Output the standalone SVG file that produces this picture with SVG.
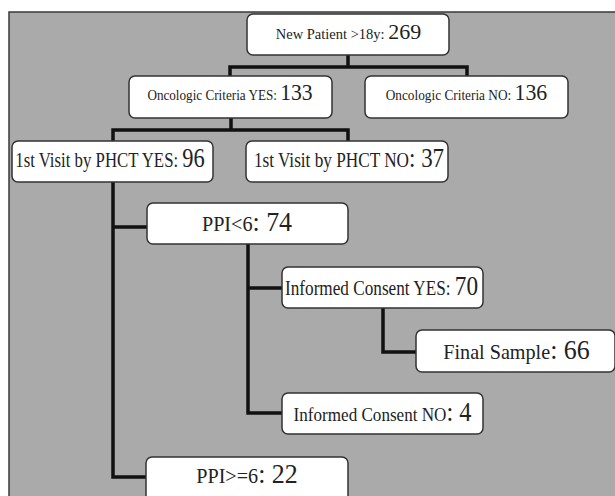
<svg xmlns="http://www.w3.org/2000/svg" width="615" height="496" viewBox="0 0 615 496">
<style>
.bg{fill:#aaaaaa;stroke:#3a3a3a;stroke-width:1.5}
.box{fill:#ffffff;stroke:#333333;stroke-width:1.5}
.con{fill:none;stroke:#111111;stroke-width:3.5;stroke-linejoin:miter;stroke-linecap:square}
text{font-family:"Liberation Serif","Times New Roman",serif;fill:#222222;text-anchor:middle}
</style>
<rect x="0" y="0" width="615" height="496" fill="#ffffff"/>
<rect class="bg" x="9" y="12" width="612" height="490"/>
<g id="connectors">
<path class="con" d="M348,55 V67 M230,76 V67 H467 V76"/>
<path class="con" d="M231,118 V130 M113,141 V130 H348 V141"/>
<path class="con" d="M113,182 V477 H146 M113,227 H147"/>
<path class="con" d="M248,244 V413 H282 M248,288 H282"/>
<path class="con" d="M383,308 V352 H416"/>
</g>
<g id="n1"><rect class="box" x="247" y="14" width="202" height="41" rx="6"/>
<text transform="translate(348.5,39)"><tspan font-size="14.5">New Patient &gt;18y: </tspan><tspan font-size="22">269</tspan></text></g>
<g id="n2"><rect class="box" x="129" y="76" width="203" height="42" rx="6"/>
<text transform="translate(230,100) scale(0.94,1)"><tspan font-size="14">Oncologic Criteria YES: </tspan><tspan font-size="23">133</tspan></text></g>
<g id="n3"><rect class="box" x="365" y="76" width="203" height="42" rx="6"/>
<text transform="translate(466.5,100) scale(0.95,1)"><tspan font-size="14">Oncologic Criteria NO: </tspan><tspan font-size="23">136</tspan></text></g>
<g id="n4"><rect class="box" x="12" y="141" width="201" height="41" rx="6"/>
<text transform="translate(110,167) scale(0.8,1)"><tspan font-size="21">1st Visit by PHCT YES: </tspan><tspan font-size="28">96</tspan></text></g>
<g id="n5"><rect class="box" x="246" y="141" width="202" height="41" rx="6"/>
<text transform="translate(349,167) scale(0.82,1)"><tspan font-size="21">1st Visit by PHCT NO</tspan><tspan font-size="28">: 37</tspan></text></g>
<g id="n6"><rect class="box" x="147" y="203" width="201" height="41" rx="6"/>
<text transform="translate(247,231) scale(0.96,1)"><tspan font-size="21">PPI&lt;6</tspan><tspan font-size="27">: 74</tspan></text></g>
<g id="n7"><rect class="box" x="282" y="267" width="201" height="41" rx="6"/>
<text transform="translate(381.5,295) scale(0.86,1)"><tspan font-size="20">Informed Consent YES: </tspan><tspan font-size="27">70</tspan></text></g>
<g id="n8"><rect class="box" x="416" y="330" width="199" height="42" rx="6"/>
<text transform="translate(516.5,359) scale(0.96,1)"><tspan font-size="21">Final Sample</tspan><tspan font-size="27">: 66</tspan></text></g>
<g id="n9"><rect class="box" x="282" y="393" width="201" height="41" rx="6"/>
<text transform="translate(382.5,421) scale(0.9,1)"><tspan font-size="19">Informed Consent NO</tspan><tspan font-size="27">: 4</tspan></text></g>
<g id="n10"><rect class="box" x="146" y="457" width="202" height="45" rx="6"/>
<text transform="translate(247,483) scale(0.96,1)"><tspan font-size="21">PPI&gt;=6</tspan><tspan font-size="27">: 22</tspan></text></g>
</svg>
